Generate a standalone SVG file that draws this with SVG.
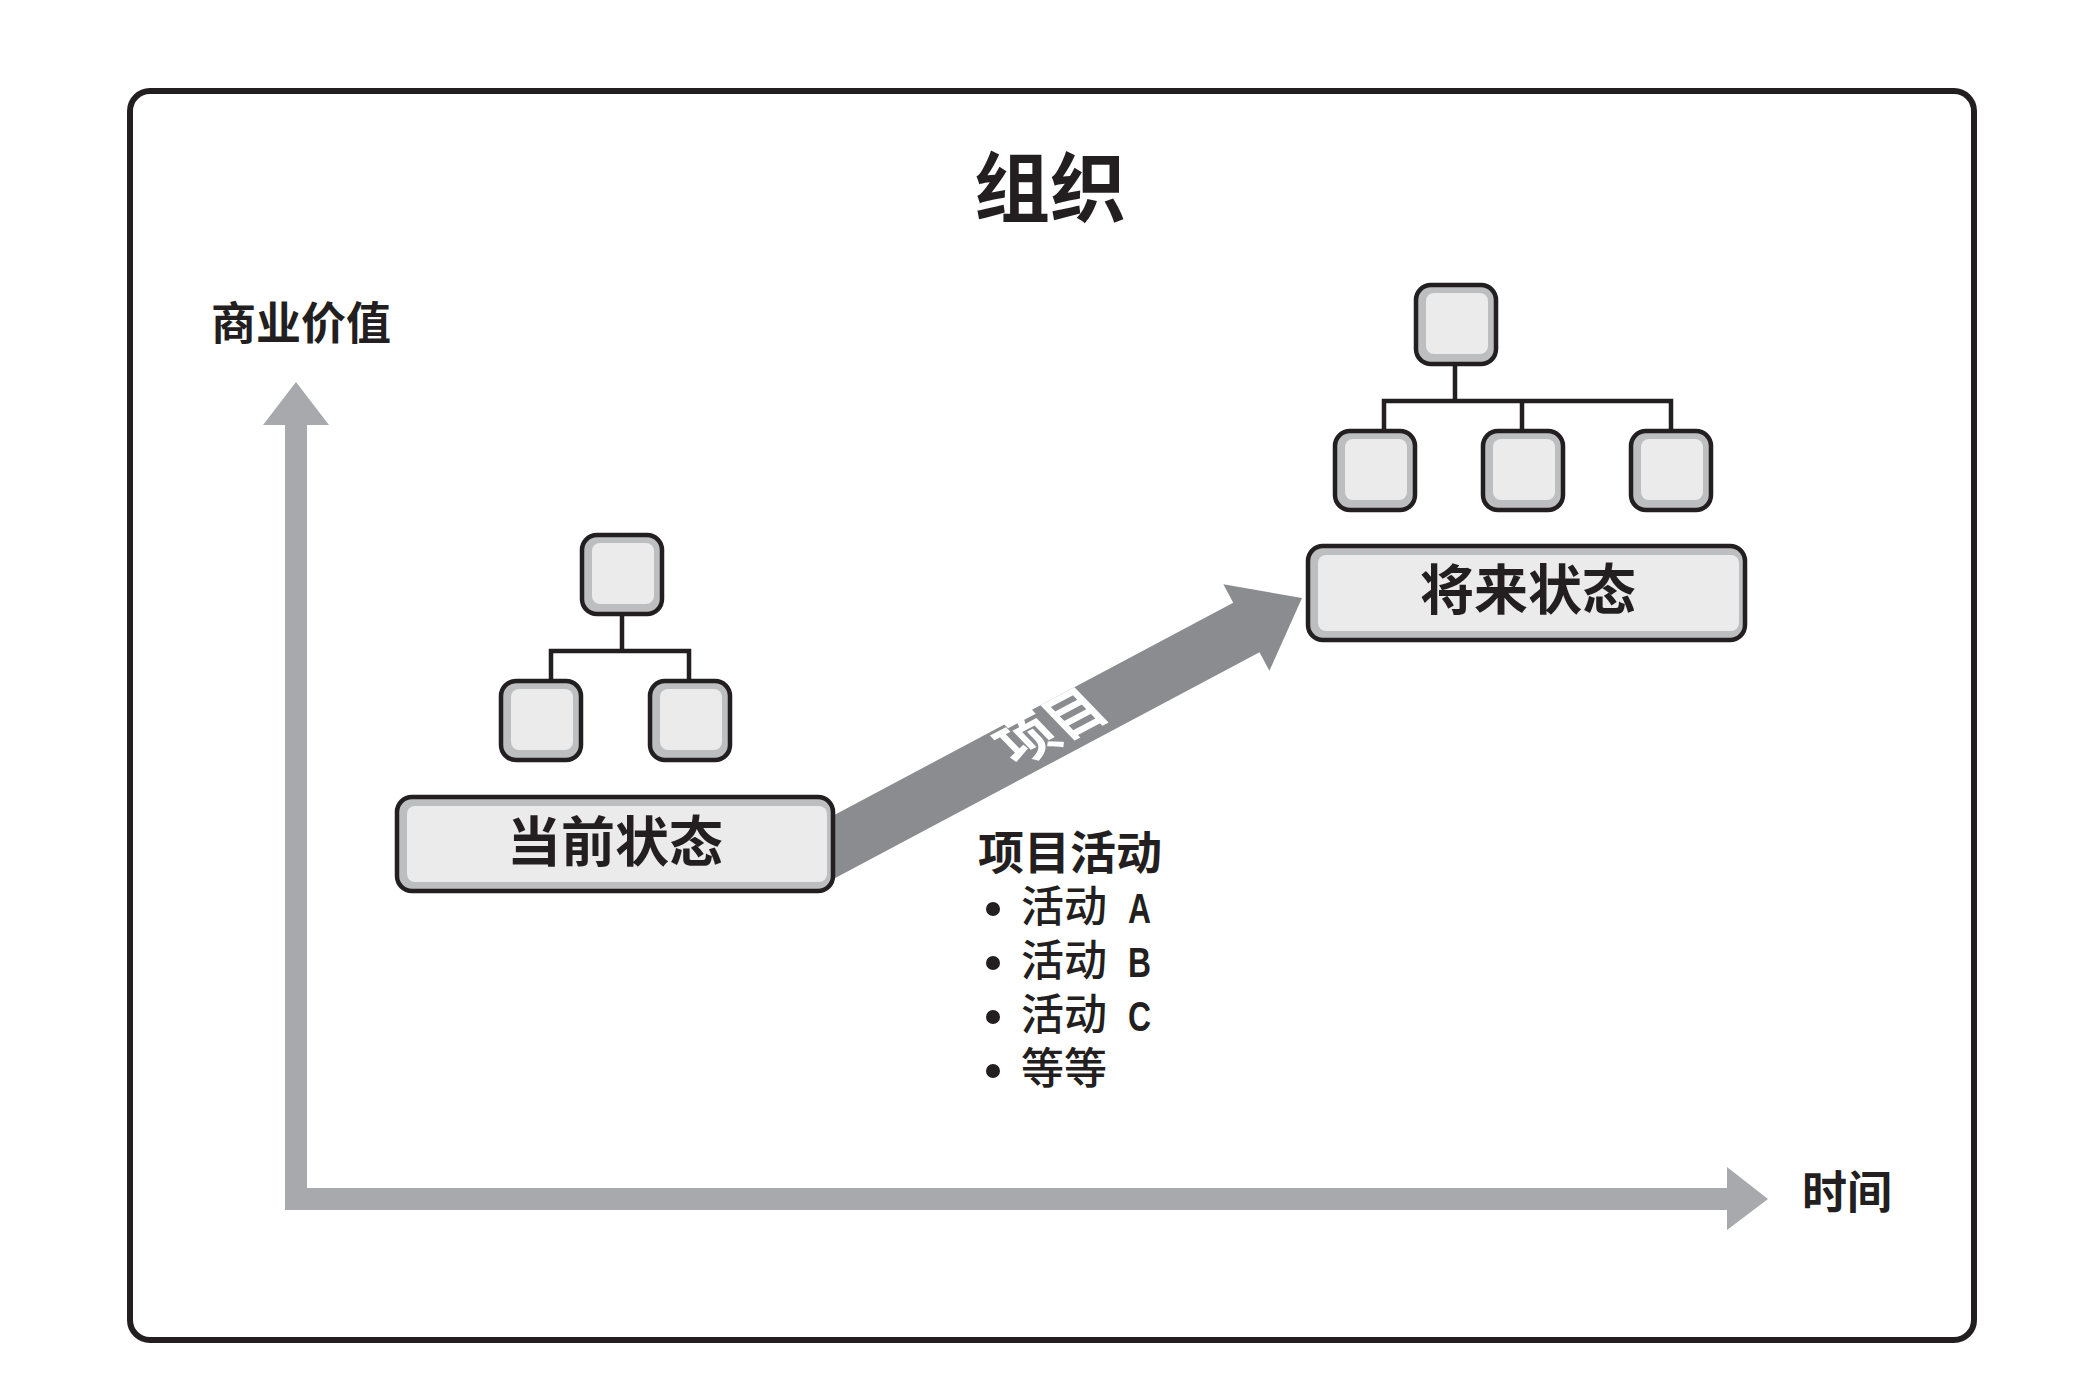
<svg xmlns="http://www.w3.org/2000/svg" width="2100" height="1400" viewBox="0 0 2100 1400">
<defs>
<style>
.frame{fill:#ffffff;stroke:#231f20;stroke-width:6}
.ob{fill:#bcbec0;stroke:#231f20;stroke-width:4.5}
.ib{fill:#ebebeb;stroke:none}
.ln{fill:none;stroke:#231f20;stroke-width:4.5}
.t{font-family:"Noto Sans CJK SC","Noto Sans",sans-serif;fill:#231f20}
.b{font-weight:700}
.m{font-weight:500}
.lat{font-family:"Liberation Sans",Arial,sans-serif;font-weight:700;fill:#231f20}
</style>
</defs>
<rect width="2100" height="1400" fill="#ffffff"/>
<rect class="frame" x="130" y="91" width="1844" height="1249" rx="20"/>
<text class="t b" x="1050" y="216" font-size="76" text-anchor="middle">组织</text>
<g id="axes">
<path d="M285 1210 L285 425 L263 425 L296 382 L329 425 L307 425 L307 1188 L1727 1188 L1727 1167 L1768 1199 L1727 1230 L1727 1210 Z" fill="#a7a9ac"/>
<text class="t b" x="301" y="340" font-size="45" text-anchor="middle">商业价值</text>
<text class="t b" x="1847" y="1209" font-size="45" text-anchor="middle">时间</text>
</g>
<g id="connectors">
<path class="ln" d="M622 613 V651 M551 681 V651 H689 V681"/>
<path class="ln" d="M1455 363 V401 M1384 431 V401 H1671 V431 M1522 401 V431"/>
<g id="project-arrow" transform="translate(1302 598) rotate(-28)">
<polygon points="-560,-28 -63,-28 -63,-49 0,0 -63,49 -63,28 -560,28" fill="#8b8c8f"/>
<g transform="translate(-282 -4) skewX(16)">
<text class="t b" x="0" y="19" font-size="54" text-anchor="middle" style="fill:#ffffff">项目</text>
</g>
</g>
</g>
<g id="current-top"><rect class="ob" x="582" y="535" width="80" height="79" rx="15"/><rect class="ib" x="592" y="543" width="62" height="61" rx="8"/></g>
<g id="current-left"><rect class="ob" x="501" y="681" width="80" height="79" rx="15"/><rect class="ib" x="511" y="689" width="62" height="61" rx="8"/></g>
<g id="current-right"><rect class="ob" x="650" y="681" width="80" height="79" rx="15"/><rect class="ib" x="660" y="689" width="62" height="61" rx="8"/></g>
<g id="current-state"><rect class="ob" x="397" y="797" width="436" height="94" rx="15"/><rect class="ib" x="407" y="806" width="420" height="76" rx="8"/>
<text class="t b" x="615" y="862" font-size="54" text-anchor="middle">当前状态</text></g>
<g id="future-top"><rect class="ob" x="1416" y="285" width="80" height="79" rx="15"/><rect class="ib" x="1426" y="293" width="62" height="61" rx="8"/></g>
<g id="future-left"><rect class="ob" x="1335" y="431" width="80" height="79" rx="15"/><rect class="ib" x="1345" y="439" width="62" height="61" rx="8"/></g>
<g id="future-mid"><rect class="ob" x="1483" y="431" width="80" height="79" rx="15"/><rect class="ib" x="1493" y="439" width="62" height="61" rx="8"/></g>
<g id="future-right"><rect class="ob" x="1631" y="431" width="80" height="79" rx="15"/><rect class="ib" x="1641" y="439" width="62" height="61" rx="8"/></g>
<g id="future-state"><rect class="ob" x="1308" y="546" width="437" height="94" rx="15"/><rect class="ib" x="1318" y="555" width="421" height="76" rx="8"/>
<text class="t b" x="1528" y="610" font-size="54" text-anchor="middle">将来状态</text></g>
<g id="activities">
<text class="t b" x="978" y="869" font-size="46">项目活动</text>
<circle cx="993" cy="909" r="7" fill="#231f20"/>
<circle cx="993" cy="963" r="7" fill="#231f20"/>
<circle cx="993" cy="1017" r="7" fill="#231f20"/>
<circle cx="993" cy="1071" r="7" fill="#231f20"/>
<text class="t m" x="1021" y="922" font-size="43">活动</text>
<text class="lat" x="1128" y="923" font-size="42" textLength="23" lengthAdjust="spacingAndGlyphs">A</text>
<text class="t m" x="1021" y="976" font-size="43">活动</text>
<text class="lat" x="1128" y="977" font-size="42" textLength="23" lengthAdjust="spacingAndGlyphs">B</text>
<text class="t m" x="1021" y="1030" font-size="43">活动</text>
<text class="lat" x="1128" y="1031" font-size="42" textLength="23" lengthAdjust="spacingAndGlyphs">C</text>
<text class="t m" x="1021" y="1084" font-size="43">等等</text>
</g>
</svg>
